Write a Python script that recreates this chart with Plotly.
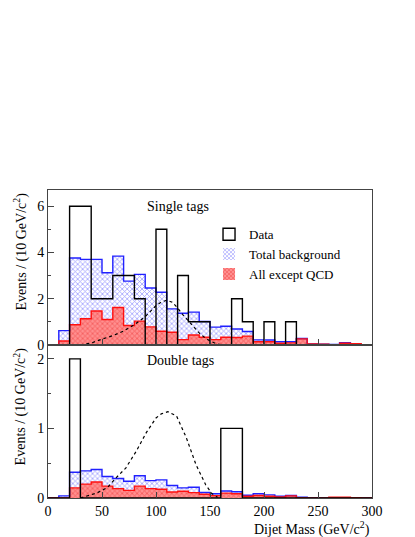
import plotly.graph_objects as go
from plotly.subplots import make_subplots

# 10 GeV bins from 0 to 300
bin_edges = list(range(0, 310, 10))
bin_centers = [e + 5 for e in bin_edges[:-1]]

# single tags
data_single = [0, 0, 6, 6, 2, 2, 3, 3, 2, 0, 5, 0, 3, 1, 1, 0, 0, 2, 1, 0, 1, 0, 1, 0, 0, 0, 0, 0, 0, 0]
bkg_single = [0, 0.62, 3.76, 3.70, 3.70, 3.12, 3.84, 2.76, 3.05, 2.46, 2.28, 1.56, 1.37, 1.42, 1.01,
              0.77, 0.81, 0.69, 0.58, 0.22, 0.21, 0.14, 0.14, 0.28, 0.04, 0.03, 0.02, 0.10, 0.03, 0]
nonqcd_single = [0, 0.17, 0.87, 1.13, 1.47, 1.10, 1.62, 0.84, 1.03, 0.78, 0.59, 0.55, 0.23, 0.43, 0.33,
                 0.23, 0.33, 0.32, 0.38, 0.14, 0.14, 0.07, 0.09, 0.26, 0.04, 0.03, 0.01, 0.07, 0.05, 0]
sig_single_x = [30, 40, 50, 60, 70, 80, 90, 100, 105, 110, 115, 120, 125, 130, 135, 140, 145, 150, 155, 160]
sig_single_y = [0.0, 0.08, 0.25, 0.4, 0.6, 0.88, 1.22, 1.7, 1.86, 1.93, 1.85, 1.6, 1.3, 1.05, 0.8,
                0.52, 0.32, 0.17, 0.07, 0.01]

# double tags
data_double = [0, 0, 2, 0, 0, 0, 0, 0, 0, 0, 0, 0, 0, 0, 0, 0, 1, 1, 0, 0, 0, 0, 0, 0, 0, 0, 0, 0, 0, 0]
bkg_double = [0, 0.03, 0.37, 0.39, 0.41, 0.31, 0.28, 0.24, 0.32, 0.25, 0.26, 0.18, 0.145, 0.155, 0.08,
              0.06, 0.10, 0.09, 0.04, 0.06, 0.045, 0.025, 0.035, 0.01, 0.005, 0, 0, 0.005, 0.005, 0]
nonqcd_double = [0, 0, 0.145, 0.20, 0.23, 0.17, 0.135, 0.11, 0.17, 0.135, 0.125, 0.087, 0.097, 0.077, 0.053,
                 0.034, 0.07, 0.06, 0.025, 0.035, 0.025, 0.015, 0.03, 0.005, 0, 0, 0.01, 0.01, 0.005, 0]
sig_double_x = [30, 35, 45, 55, 63, 72, 82, 91, 100, 105, 111, 119, 128, 137, 146, 152, 157]
sig_double_y = [0.0, 0.02, 0.07, 0.15, 0.29, 0.43, 0.68, 0.94, 1.15, 1.21, 1.24, 1.18, 0.87, 0.48, 0.19,
                0.06, 0.01]

FONT = 'Liberation Serif'
BLUE = '#2020ff'
RED = '#ff1010'


def step(values):
    return bin_edges, list(values) + [values[-1]]


def add_panel(fig, row, data, bkg, nonqcd, sx, sy, legend):
    fig.add_trace(go.Bar(
        x=bin_centers, y=bkg, width=10, name='Total background', showlegend=legend,
        marker=dict(color='white', line=dict(width=0),
                    pattern=dict(shape='x', fgcolor='#3a3aff', bgcolor='white', size=3.5, solidity=0.4)),
    ), row=row, col=1)
    fig.add_trace(go.Bar(
        x=bin_centers, y=nonqcd, width=10, name='All except QCD', showlegend=legend,
        marker=dict(color='#ff8a8a', line=dict(width=0),
                    pattern=dict(shape='x', fgcolor='#e82020', bgcolor='#ff8f8f', size=3.5, solidity=0.4)),
    ), row=row, col=1)
    # outlines drawn as steps so adjacent bins merge
    for vals, col in [(bkg, BLUE), (nonqcd, RED), (data, 'black')]:
        x, y = step(vals)
        fig.add_trace(go.Scatter(x=x, y=y, mode='lines', line=dict(color=col, width=1.4, shape='hv'),
                                 showlegend=False, hoverinfo='skip'), row=row, col=1)
    fig.add_trace(go.Scatter(x=sx, y=sy, mode='lines', line=dict(color='black', width=1.2, dash='dot'),
                             showlegend=False), row=row, col=1)


fig = make_subplots(rows=2, cols=1, shared_xaxes=True, vertical_spacing=0, row_heights=[0.503, 0.497])

# legend entry for data (empty bar, outline only)
fig.add_trace(go.Bar(x=[None], y=[None], name='Data',
                     marker=dict(color='white', line=dict(width=1.4, color='black'))), row=1, col=1)
add_panel(fig, 1, data_single, bkg_single, nonqcd_single, sig_single_x, sig_single_y, True)
add_panel(fig, 2, data_double, bkg_double, nonqcd_double, sig_double_x, sig_double_y, False)

axis_style = dict(showline=True, linecolor='#444', linewidth=1, mirror=True, ticks='inside',
                  tickcolor='#444', ticklen=6, showgrid=False, zeroline=False, automargin=False,
                  tickfont=dict(family=FONT, size=14, color='black'))
fig.update_xaxes(range=[0, 300], dtick=50, **axis_style)
fig.update_xaxes(showticklabels=False, row=1, col=1)
fig.update_yaxes(**axis_style)
fig.update_yaxes(range=[0, 6.7], tickvals=[0, 2, 4, 6],
                 minor=dict(tickvals=[1, 3, 5], ticks='inside', ticklen=3, tickcolor='#444'), row=1, col=1)
fig.update_yaxes(range=[0, 2.2], tickvals=[0, 1, 2],
                 minor=dict(tickvals=[0.5, 1.5], ticks='inside', ticklen=3, tickcolor='#444'), row=2, col=1)

ytitle = 'Events / (10 GeV/c<sup>2</sup>)'
annotations = [
    dict(text='Single tags', x=120, y=5.98, xref='x', yref='y', showarrow=False,
         font=dict(family=FONT, size=14)),
    dict(text='Double tags', x=122.5, y=1.97, xref='x2', yref='y2', showarrow=False,
         font=dict(family=FONT, size=14)),
    dict(text=ytitle, x=-0.085, y=1.0, xref='paper', yref='paper', textangle=-90,
         xanchor='center', yanchor='top', showarrow=False, font=dict(family=FONT, size=14)),
    dict(text=ytitle, x=-0.085, y=0.497, xref='paper', yref='paper', textangle=-90,
         xanchor='center', yanchor='top', showarrow=False, font=dict(family=FONT, size=14)),
    dict(text='Dijet Mass (GeV/c<sup>2</sup>)', x=1.0, y=-0.1, xref='paper', yref='paper',
         xanchor='right', yanchor='middle', showarrow=False, font=dict(family=FONT, size=14)),
]

# the page adds an 8px body margin, so the figure is a bit smaller than the window
fig.update_layout(
    width=407, height=529,
    margin=dict(l=40, r=43, t=182, b=39),
    template='plotly_white',
    plot_bgcolor='white', paper_bgcolor='white',
    barmode='overlay', bargap=0,
    font=dict(family=FONT, size=14, color='black'),
    annotations=annotations,
    legend=dict(x=0.497, y=0.905, xanchor='left', yanchor='top', bgcolor='rgba(0,0,0,0)',
                font=dict(family=FONT, size=13), traceorder='normal', tracegroupgap=0,
                itemwidth=30),
)

fig.write_html('out.html')
